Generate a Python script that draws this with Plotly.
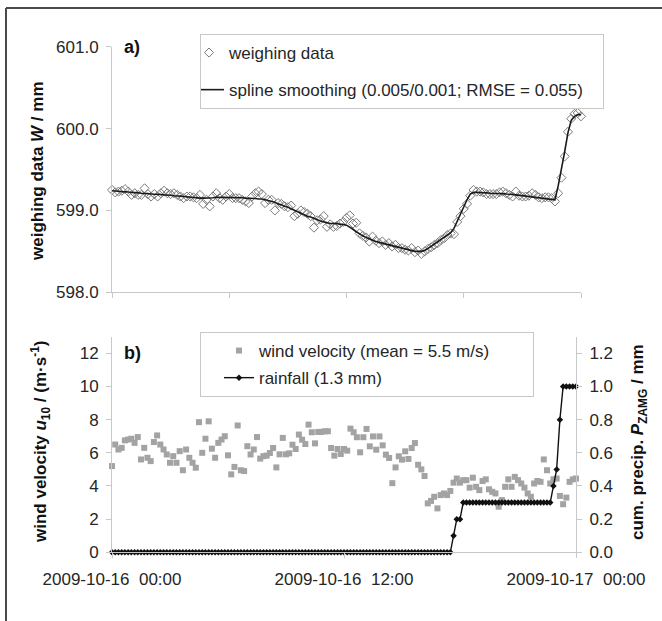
import pandas as pd
import plotly.graph_objects as go

# ---------------- data ----------------
times = pd.date_range("2009-10-16 00:00", periods=145, freq="10min")

weighing = [
    599.25, 599.22, 599.23, 599.24, 599.26, 599.23, 599.19, 599.21, 599.19, 599.19,
    599.27, 599.20, 599.17, 599.20, 599.17, 599.21, 599.24, 599.21, 599.20, 599.21,
    599.19, 599.17, 599.15, 599.17, 599.17, 599.16, 599.15, 599.19, 599.08, 599.13,
    599.05, 599.17, 599.21, 599.15, 599.13, 599.17, 599.20, 599.15, 599.15, 599.15,
    599.13, 599.11, 599.09, 599.17, 599.21, 599.23, 599.20, 599.09, 599.13, 599.13,
    599.00, 599.09, 599.08, 599.05, 599.04, 599.06, 598.93, 598.96, 599.00, 598.98,
    598.96, 598.93, 598.79, 598.88, 598.89, 598.93, 598.80, 598.83, 598.80, 598.81,
    598.84, 598.86, 598.91, 598.94, 598.84, 598.85, 598.72, 598.69, 598.67, 598.62,
    598.68, 598.63, 598.60, 598.62, 598.58, 598.60, 598.56, 598.58, 598.54, 598.54,
    598.52, 598.51, 598.54, 598.49, 598.51, 598.47, 598.50, 598.53, 598.55, 598.58,
    598.60, 598.64, 598.66, 598.70, 598.72, 598.71, 598.86, 598.93, 599.02, 599.08,
    599.18, 599.25, 599.23, 599.23, 599.22, 599.20, 599.20, 599.20, 599.20, 599.22,
    599.23, 599.21, 599.19, 599.17, 599.23, 599.18, 599.17, 599.17, 599.18, 599.21,
    599.19, 599.16, 599.15, 599.16, 599.16, 599.15, 599.11, 599.21, 599.40, 599.66,
    599.96, 600.12, 600.18, 600.19, 600.15,
]

spline = [
    599.24, 599.24, 599.235, 599.23, 599.23, 599.225, 599.22, 599.22, 599.215, 599.21,
    599.21, 599.205, 599.20, 599.20, 599.20, 599.195, 599.19, 599.19, 599.185, 599.18,
    599.18, 599.175, 599.17, 599.165, 599.16, 599.155, 599.15, 599.15, 599.15, 599.15,
    599.15, 599.155, 599.16, 599.16, 599.16, 599.16, 599.16, 599.16, 599.16, 599.155,
    599.155, 599.15, 599.15, 599.15, 599.145, 599.14, 599.14, 599.13, 599.12, 599.11,
    599.10, 599.08, 599.07, 599.05, 599.04, 599.02, 599.00, 598.98, 598.97, 598.95,
    598.93, 598.92, 598.90, 598.88, 598.87, 598.86, 598.85, 598.84, 598.84, 598.84,
    598.83, 598.83, 598.82, 598.80, 598.77, 598.74, 598.71, 598.69, 598.67, 598.65,
    598.63, 598.62, 598.61, 598.60, 598.59, 598.58, 598.57, 598.56, 598.55, 598.54,
    598.53, 598.52, 598.51, 598.50, 598.50, 598.50, 598.51, 598.53, 598.56, 598.59,
    598.62, 598.65, 598.68, 598.70, 598.73, 598.78, 598.87, 598.96, 599.05, 599.13,
    599.20, 599.22, 599.22, 599.22, 599.22, 599.215, 599.21, 599.21, 599.21, 599.21,
    599.205, 599.20, 599.20, 599.195, 599.19, 599.185, 599.18, 599.175, 599.17, 599.165,
    599.16, 599.155, 599.15, 599.145, 599.14, 599.135, 599.13, 599.30, 599.50, 599.72,
    599.95, 600.10, 600.15, 600.17, 600.17,
]

wind = [
    5.2, 6.5, 6.2, 6.3, 6.75, 6.8, 6.85, 6.6, 6.95, 5.6,
    6.3, 5.7, 5.5, 6.65, 7.05, 6.5, 6.2, 5.9, 5.4, 5.8,
    5.4, 6.1, 4.95, 6.2, 5.7, 5.4, 5.1, 7.85, 6.0, 6.85,
    7.9, 6.25, 5.7, 6.6, 6.8, 7.0, 5.85, 4.7, 5.15, 7.65,
    4.95, 4.9, 6.4, 5.9, 6.2, 6.95, 5.65, 5.8,
    5.83, 5.99, 6.29, 5.12, 5.91, 6.9, 5.91, 5.97, 6.49, 6.23,
    7.1, 6.79, 6.53, 7.7, 7.24, 6.57, 7.26, 7.26, 7.3, 7.3,
    6.29, 5.83, 6.23, 5.93, 6.23, 6.13, 7.46, 7.24, 6.94, 6.03,
    6.94, 7.44, 6.39, 6.99, 6.19, 6.99, 6.45, 5.89, 5.69, 4.17,
    5.12, 5.79, 5.59, 6.09, 5.63, 6.29, 6.59, 5.28,
    5.0, 4.6, 2.95, 3.1, 3.35, 2.65, 3.45, 3.55, 3.45, 3.7,
    4.2, 4.45, 4.2, 4.35, 4.35, 3.9, 4.5, 3.95, 3.75, 4.3,
    4.4, 3.8, 3.65, 3.55, 2.75, 3.15, 3.95, 4.4, 3.95, 4.55,
    4.35, 4.15, 3.9, 3.55, 3.35, 4.15, 4.3, 4.25, 5.6, 4.95,
    4.15, 4.4, 4.45, 3.4, 2.9, 3.3, 4.25, 4.4, 4.45,
]

rain = [
    0.0, 0.0, 0.0, 0.0, 0.0, 0.0, 0.0, 0.0, 0.0, 0.0, 0.0, 0.0,
    0.0, 0.0, 0.0, 0.0, 0.0, 0.0, 0.0, 0.0, 0.0, 0.0, 0.0, 0.0,
    0.0, 0.0, 0.0, 0.0, 0.0, 0.0, 0.0, 0.0, 0.0, 0.0, 0.0, 0.0,
    0.0, 0.0, 0.0, 0.0, 0.0, 0.0, 0.0, 0.0, 0.0, 0.0, 0.0, 0.0,
    0.0, 0.0, 0.0, 0.0, 0.0, 0.0, 0.0, 0.0, 0.0, 0.0, 0.0, 0.0,
    0.0, 0.0, 0.0, 0.0, 0.0, 0.0, 0.0, 0.0, 0.0, 0.0, 0.0, 0.0,
    0.0, 0.0, 0.0, 0.0, 0.0, 0.0, 0.0, 0.0, 0.0, 0.0, 0.0, 0.0,
    0.0, 0.0, 0.0, 0.0, 0.0, 0.0, 0.0, 0.0, 0.0, 0.0, 0.0, 0.0,
    0.0, 0.0, 0.0, 0.0, 0.0, 0.0, 0.0, 0.0, 0.0, 0.0,
    0.1, 0.2, 0.2,
    0.3, 0.3, 0.3, 0.3, 0.3, 0.3, 0.3, 0.3, 0.3, 0.3, 0.3, 0.3, 0.3, 0.3,
    0.3, 0.3, 0.3, 0.3, 0.3, 0.3, 0.3, 0.3, 0.3, 0.3, 0.3, 0.3, 0.3, 0.3,
    0.4, 0.5, 0.8, 1.0, 1.0, 1.0, 1.0, 1.0,
]

top_ticks = ["2009-10-16 00:00", "2009-10-16 06:00", "2009-10-16 12:00",
             "2009-10-16 18:00", "2009-10-17 00:00"]
bottom_ticks = ["2009-10-16 00:00", "2009-10-16 12:00", "2009-10-17 00:00"]
bottom_tick_labels = ["2009-10-16\u00a0\u00a000:00", "2009-10-16\u00a0\u00a012:00",
                      "2009-10-17\u00a0\u00a000:00"]

# ---------------- figure ----------------
W, H = 662, 621
FONT = "Liberation Sans, Arial, sans-serif"
AX = "#c8c8c8"
TXT = "#262626"
NB = "\u00a0"

def px(x):
    return x / W

def py(y):
    return 1 - y / H

fig = go.Figure()

fig.add_trace(go.Scatter(
    x=times, y=weighing, mode="markers", name="weighing data",
    marker=dict(symbol="diamond-open", size=7, color="#7a7a7a", line=dict(width=1)),
    xaxis="x", yaxis="y", legend="legend", legendgroup="a1", cliponaxis=False))
fig.add_trace(go.Scatter(
    x=times, y=spline, mode="lines",
    name="spline smoothing (0.005/0.001; RMSE = 0.055)" + NB * 3,
    line=dict(color="#1a1a1a", width=1.6),
    xaxis="x", yaxis="y", legend="legend", legendgroup="a2", cliponaxis=False))

fig.add_trace(go.Scatter(
    x=times, y=wind, mode="markers", name="wind velocity (mean = 5.5 m/s)" + NB * 8,
    marker=dict(symbol="square", size=6, color="#a3a3a3"),
    xaxis="x2", yaxis="y2", legend="legend2", legendgroup="b1", cliponaxis=False))
fig.add_trace(go.Scatter(
    x=times, y=rain, mode="lines+markers", name="rainfall (1.3 mm)",
    line=dict(color="#111111", width=1.4),
    marker=dict(symbol="diamond", size=5, color="#111111"),
    xaxis="x2", yaxis="y3", legend="legend2", legendgroup="b2", cliponaxis=False))

tickfont = dict(family=FONT, size=17, color=TXT)

top_y0, top_y1 = 292.3, 46.7
bot_y0, bot_y1 = 552.3, 552.3 - 13 * 16.58

common = dict(ticks="outside", ticklen=5, tickcolor=AX, tickwidth=1,
              showline=True, linecolor=AX, linewidth=1,
              showgrid=False, zeroline=False, automargin=False)

fig.update_layout(
    template="none",
    width=W, height=H,
    margin=dict(l=0, r=0, t=0, b=0, pad=0, autoexpand=False),
    paper_bgcolor="white", plot_bgcolor="rgba(0,0,0,0)",
    font=dict(family=FONT, size=17, color=TXT),
    showlegend=True,
    xaxis=dict(domain=[px(112), px(581)], anchor="y", type="date",
               range=["2009-10-16 00:00", "2009-10-17 00:00"],
               tickmode="array", tickvals=top_ticks, showticklabels=False,
               **common),
    yaxis=dict(domain=[py(top_y0), py(top_y1)], anchor="x",
               range=[598, 601], tickmode="array", tickvals=[598, 599, 600, 601],
               tickformat=".1f", ticklabelstandoff=4, tickfont=tickfont, **common),
    xaxis2=dict(domain=[px(112), px(576)], anchor="y2", type="date",
                range=["2009-10-16 00:00", "2009-10-17 00:00"],
                tickmode="array", tickvals=bottom_ticks, ticktext=bottom_tick_labels,
                ticklabelstandoff=6, tickfont=tickfont, **common),
    yaxis2=dict(domain=[py(bot_y0), py(bot_y1)], anchor="x2",
                range=[0, 13], tickmode="array", tickvals=[0, 2, 4, 6, 8, 10, 12],
                ticklabelstandoff=4, tickfont=tickfont, **common),
    yaxis3=dict(overlaying="y2", side="right", anchor="x2",
                range=[0, 1.3], tickmode="array",
                tickvals=[0, 0.2, 0.4, 0.6, 0.8, 1.0, 1.2], tickformat=".1f",
                ticklabelstandoff=4, tickfont=tickfont, **common),
    legend=dict(x=px(200), y=py(34), xanchor="left", yanchor="top",
                bgcolor="white", bordercolor="#c8c8c8", borderwidth=1,
                font=dict(family=FONT, size=17, color=TXT),
                tracegroupgap=12, indentation=-12),
    legend2=dict(x=px(200), y=py(332), xanchor="left", yanchor="top",
                 bgcolor="white", bordercolor="#c8c8c8", borderwidth=1,
                 font=dict(family=FONT, size=17, color=TXT),
                 tracegroupgap=2, indentation=18),
)

annotations = [
    dict(text="<b>a)</b>", x=px(122), y=py(47), xanchor="left", yanchor="middle",
         font=dict(size=18, color="#111")),
    dict(text="<b>b)</b>", x=px(122), y=py(353), xanchor="left", yanchor="middle",
         font=dict(size=18, color="#111")),
    dict(text="<b>weighing data <i>W</i> / mm</b>", x=px(37), y=py(171),
         xanchor="center", yanchor="middle", textangle=-90,
         font=dict(size=17, color="#111")),
    dict(text="<b>wind velocity <i>u</i><sub>10</sub> / (m·s<sup>-1</sup>)</b>",
         x=px(40), y=py(442), xanchor="center", yanchor="middle", textangle=-90,
         font=dict(size=17, color="#111")),
    dict(text="<b>cum. precip. <i>P</i><sub>ZAMG</sub> / mm</b>",
         x=px(639), y=py(442), xanchor="center", yanchor="middle", textangle=-90,
         font=dict(size=17, color="#111")),
]
for a in annotations:
    a.update(xref="paper", yref="paper", showarrow=False)
fig.update_layout(annotations=annotations)

# outer frame (left and top edges of the cropped figure box)
fig.update_layout(shapes=[
    dict(type="line", xref="paper", yref="paper", x0=px(6), x1=px(6), y0=py(8), y1=0,
         line=dict(color="#4a4a4a", width=2)),
    dict(type="line", xref="paper", yref="paper", x0=px(6), x1=1, y0=py(8), y1=py(8),
         line=dict(color="#4a4a4a", width=2)),
])

fig.write_html(
    "out.html",
    config={"displayModeBar": False},
    post_script="document.body.style.margin='0';document.body.style.overflow='hidden';",
)
